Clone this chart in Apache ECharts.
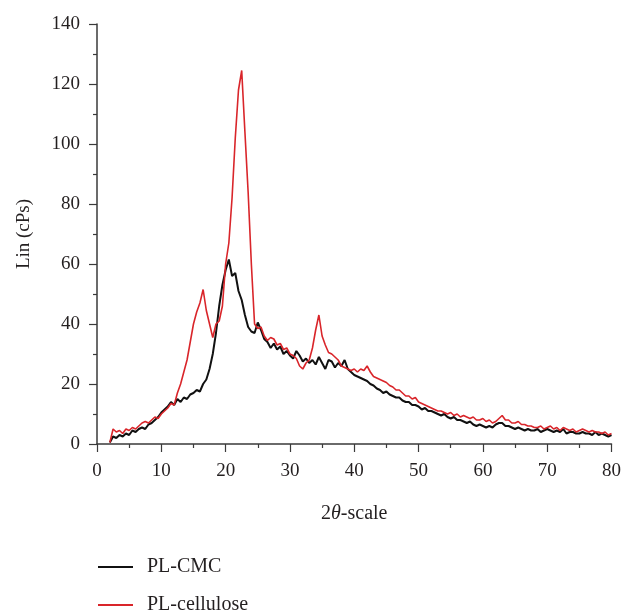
<!DOCTYPE html>
<html>
<head>
<meta charset="utf-8">
<script src="https://cdn.jsdelivr.net/npm/echarts@6/dist/echarts.min.js"></script>
<style>
html,body{margin:0;padding:0;background:#fff;}
#chart{width:624px;height:614px;}
</style>
</head>
<body>
<div id="chart"></div>
<script>
const angles = [2,2.5,3,3.5,4,4.5,5,5.5,6,6.5,7,7.5,8,8.5,9,9.5,10,10.5,11,11.5,12,12.5,13,13.5,14,14.5,15,15.5,16,16.5,17,17.5,18,18.5,19,19.5,20,20.5,21,21.5,22,22.5,23,23.5,24,24.5,25,25.5,26,26.5,27,27.5,28,28.5,29,29.5,30,30.5,31,31.5,32,32.5,33,33.5,34,34.5,35,35.5,36,36.5,37,37.5,38,38.5,39,39.5,40,40.5,41,41.5,42,42.5,43,43.5,44,44.5,45,45.5,46,46.5,47,47.5,48,48.5,49,49.5,50,50.5,51,51.5,52,52.5,53,53.5,54,54.5,55,55.5,56,56.5,57,57.5,58,58.5,59,59.5,60,60.5,61,61.5,62,62.5,63,63.5,64,64.5,65,65.5,66,66.5,67,67.5,68,68.5,69,69.5,70,70.5,71,71.5,72,72.5,73,73.5,74,74.5,75,75.5,76,76.5,77,77.5,78,78.5,79,79.5,80];

const plCMC = [0.5,2.5,2,3,2.5,3.5,3,4.5,4,5,5.5,5,6.5,7,8,9,10.5,11.5,12.5,14,13,15,14,15.5,15,16.5,17,18,17.5,20,21.5,25,30,37,46,53,58,61.5,56,57,51,48,43,39,37.5,37,40.5,38,35,34,32,33.5,31.5,32.5,30,31,29.5,28.5,31,29.5,27.5,28.5,27,28,26.5,29,27,25,28,27.5,25.5,27,26,28,25,24,23,22.5,22,21.5,21,20,19.5,18.5,18,17,17.5,16.5,16,15.5,15.5,14.5,14,14,13,13,12.5,11.5,12,11,11,10.5,10,9.5,10,9,8.5,9,8,8,7.5,7,7.5,6.5,6,6.5,6,5.5,6,5.5,6.5,7,7,6,6,5.5,5,5.5,5,4.5,5,4.5,4.5,5,4,4.5,5,4.5,4,4.5,4,5,3.5,4,4,3.5,3.5,4,3.5,3.5,3,4,3,3.5,3,2.5,3];

const plCellulose = [0.5,5,4,4.5,3.5,5,4.5,5.5,5,6,7,7.5,7,8,9,8.5,10,11,12,13.5,13,17,20,24,28,34,40,44,47,51.5,44.5,40,35.5,40,41,46,60,67,82,102,118,124.5,104,84,60,40,38.5,39,36,34.5,35.5,35,33,33.5,31.5,32,30,29.5,28.5,26,25,27,28,32,38,43,36,33,30.5,30,29,28,26,25.5,25,24.5,25,24,25,24.5,26,24,22.5,22,21.5,21,20.5,19.5,19,18,18,17,16,16,15,15.5,14,13.5,13,12.5,12,11.5,11,11,10.5,10,10.5,9.5,10,9,9.5,9,8.5,9,8,8,8.5,7.5,8,7,7.5,8.5,9.5,8,8,7,7,7.5,6.5,6.5,6,6,5.5,5.5,6,5,5.5,6,5,5.5,4.5,5.5,5,4.5,5,4,4.5,5,4.5,4,4.5,4,4,3.5,4,3,3.5];

const xTicks = [0,10,20,30,40,50,60,70,80];
const yTicks = [0,20,40,60,80,100,120,140];

const seriesNames = ['PL-CMC','PL-cellulose'];
const seriesColors = ['#111111','#d9252a'];

const font = '"Liberation Serif", "DejaVu Serif", serif';
const textColor = '#231f20';
const axisColor = '#3a3a3a';

function pairs(arr){ return angles.map((a,i)=>[a,arr[i]]); }

function legendFor(i, top){
  return {
    left:93, top:top, orient:'horizontal',
    icon:'rect', itemWidth:35, itemHeight:2,
    textStyle:{fontFamily:font,fontSize:20,color:textColor,padding:[0,0,0,9]},
    data:[{name:seriesNames[i], itemStyle:{color:seriesColors[i]}}]
  };
}

const chart = echarts.init(document.getElementById('chart'), null, {renderer:'canvas'});
chart.setOption({
  animation:false,
  backgroundColor:'#fff',
  grid:{left:97,right:12,top:24,bottom:170},
  legend:[legendFor(0,552), legendFor(1,590)],
  xAxis:{
    type:'value', min:xTicks[0], max:xTicks[xTicks.length-1], interval:10,
    name:'2{i|θ}-scale', nameLocation:'middle', nameGap:60,
    nameTextStyle:{fontFamily:font,fontSize:20,color:textColor,
      rich:{i:{fontFamily:font,fontSize:20,fontStyle:'italic',color:textColor}}},
    axisLine:{show:true,lineStyle:{color:axisColor,width:1.5}},
    axisTick:{show:true,length:8,lineStyle:{color:axisColor,width:1.2}},
    minorTick:{show:true,splitNumber:2,length:4,lineStyle:{color:axisColor,width:1.2}},
    axisLabel:{fontFamily:font,fontSize:19,color:textColor,margin:18},
    splitLine:{show:false}
  },
  yAxis:{
    type:'value', min:yTicks[0], max:yTicks[yTicks.length-1], interval:20,
    name:'Lin (cPs)', nameLocation:'middle', nameGap:63, nameRotate:90,
    nameTextStyle:{fontFamily:font,fontSize:19,color:textColor},
    axisLine:{show:true,lineStyle:{color:axisColor,width:1.5}},
    axisTick:{show:true,length:8,lineStyle:{color:axisColor,width:1.2}},
    minorTick:{show:true,splitNumber:2,length:4,lineStyle:{color:axisColor,width:1.2}},
    axisLabel:{fontFamily:font,fontSize:19,color:textColor,margin:17},
    splitLine:{show:false}
  },
  series:[
    {name:seriesNames[0],type:'line',data:pairs(plCMC),symbol:'none',
     lineStyle:{color:seriesColors[0],width:2},itemStyle:{color:seriesColors[0]}},
    {name:seriesNames[1],type:'line',data:pairs(plCellulose),symbol:'none',
     lineStyle:{color:seriesColors[1],width:1.6},itemStyle:{color:seriesColors[1]}}
  ]
});
</script>
</body>
</html>
